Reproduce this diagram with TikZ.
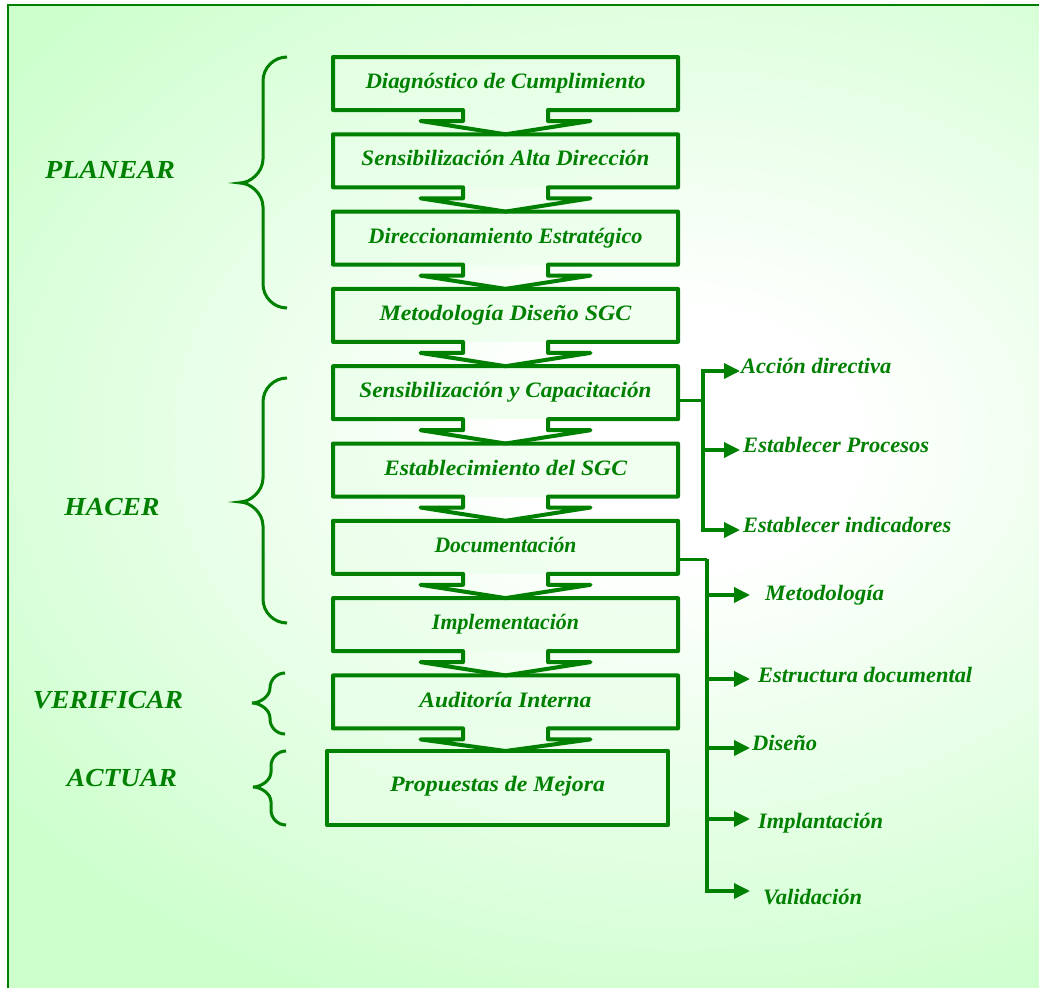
\documentclass[tikz,border=0pt]{standalone}
\usepackage{fontspec}
\setmainfont{Liberation Serif}
\usepackage{graphicx}
\usetikzlibrary{arrows.meta,calc}
\definecolor{bg}{RGB}{204,255,204}
\definecolor{dg}{RGB}{0,128,0}
\pgfdeclareradialshading{glow}{\pgfpointorigin}{color(0bp)=(white); color(5bp)=(white); color(25bp)=(bg); color(50bp)=(bg)}
\newcommand\fw[2]{\resizebox{#1pt}{\height}{#2}}
\newcommand\callout[2]{\draw[outl] (#1.south west) -- (#1.north west) -- (#1.north east) -- (#1.south east) -- ($(#1.south)+(42.5,0)$) -- ++(0,11) -- ++(42.5,0) -- (#1.south |- #2.north) -- ($(#1.south)+(-85,11)$) -- ++(42.5,0) -- ($(#1.south)+(-42.5,0)$) -- cycle;}
% xend, xv, xtip, ytop, ytip, ybot, r
\newcommand\mybrace[7]{\draw[brace] (#1,#4) .. controls ({#2+0.45*(#1-#2)},#4) and (#2,{#4+0.45*#7}) .. (#2,{#4+#7}) -- (#2,{#5-#7}) .. controls (#2,{#5-0.45*#7}) and ({#3+0.45*(#2-#3)},#5) .. (#3,#5) .. controls ({#3+0.45*(#2-#3)},#5) and (#2,{#5+0.45*#7}) .. (#2,{#5+#7}) -- (#2,{#6-#7}) .. controls (#2,{#6-0.45*#7}) and ({#2+0.45*(#1-#2)},#6) .. (#1,#6);}
\begin{document}
\begin{tikzpicture}[x=1pt,y=-1pt,
  box/.style={minimum width=345pt, minimum height=53pt, inner sep=0pt, outer sep=0pt,
    fill=bg!45!white, fill opacity=0.6, text opacity=1, text=dg,
    font=\fontsize{22}{24}\selectfont\bfseries\itshape},
  outl/.style={draw=dg, line width=4pt, line join=round},
  brace/.style={draw=dg, line width=3pt},
  side/.style={text=dg, font=\fontsize{26}{28}\selectfont\bfseries\itshape, inner sep=0pt},
  rl/.style={text=dg, anchor=west, inner sep=0pt, text height=1.45ex, text depth=0.45ex,
    font=\fontsize{22}{24}\selectfont\bfseries\itshape},
  cline/.style={draw=dg, line width=3pt},
  arr/.style={draw=dg, line width=3.5pt, -{Triangle[length=16pt,width=15pt]}}]
\useasboundingbox (0,0) rectangle (1039,988);
\fill[white] (0,0) rectangle (1039,988);
\fill[bg] (8,5) rectangle (1039,988);
\begin{scope}
  \clip (8,5) rectangle (1039,988);
  \shade[shading=glow] (680,440) ellipse (850 and 620);
\end{scope}
\draw[dg, line width=2.5pt] (8,988) -- (8,5) -- (1039,5);

% boxes
\node[box] (b1) at (505.5,83.5) {\raisebox{5pt}{\fw{280}{Diagnóstico de Cumplimiento}}};
\node[box] (b2) at (505.5,160.8) {\raisebox{5pt}{\fw{288}{Sensibilización Alta Dirección}}};
\node[box] (b3) at (505.5,238.1) {\raisebox{5pt}{\fw{274}{Direccionamiento Estratégico}}};
\node[box] (b4) at (505.5,315.4) {\raisebox{5pt}{\fw{252}{Metodología Diseño SGC}}};
\node[box] (b5) at (505.5,392.7) {\raisebox{5pt}{\fw{292}{Sensibilización y Capacitación}}};
\node[box] (b6) at (505.5,470) {\raisebox{5pt}{\fw{243}{Establecimiento del SGC}}};
\node[box] (b7) at (505.5,547.3) {\raisebox{5pt}{\fw{142}{Documentación}}};
\node[box] (b8) at (505.5,624.6) {\raisebox{5pt}{\fw{147}{Implementación}}};
\node[box] (b9) at (505.5,701.9) {\raisebox{5pt}{\fw{172}{Auditoría Interna}}};
\node[box, minimum width=341pt, minimum height=74pt] (b10) at (497.5,788) {\raisebox{8pt}{\fw{215}{Propuestas de Mejora}}};

\callout{b1}{b2}
\callout{b2}{b3}
\callout{b3}{b4}
\callout{b4}{b5}
\callout{b5}{b6}
\callout{b6}{b7}
\callout{b7}{b8}
\callout{b8}{b9}
\callout{b9}{b10}
\draw[outl] (b10.south west) rectangle (b10.north east);

% braces and phase labels
\mybrace{287}{263}{240}{57}{183}{308}{24}
\mybrace{287}{263}{240}{378}{502}{623}{24}
\mybrace{285}{270}{252}{673}{703}{734}{15}
\mybrace{286}{271}{253}{751}{787}{825}{15}
\node[side] (p1) at (110,170) {\fw{130}{PLANEAR}};
\node[side] (p2) at (112,507) {\fw{95}{HACER}};
\node[side] (p3) at (108,700) {\fw{150}{VERIFICAR}};
\node[side] (p4) at (122,778) {\fw{110}{ACTUAR}};

% right connectors 1
\coordinate (j1) at (703,400);
\draw[cline] (b5.east |- j1) -- (j1);
\node[rl] (r1) at (741,371) {\fw{150}{Acción directiva}};
\node[rl] (r2) at (743,450) {\fw{186}{Establecer Procesos}};
\node[rl] (r3) at (743,530) {\fw{208}{Establecer indicadores}};
\draw[arr, shorten >=1pt] (j1) |- (r1.west);
\draw[arr, shorten >=3pt] (j1) |- (r2.west);
\draw[arr, shorten >=3pt] (j1) |- (r3.west);

% right connectors 2
\coordinate (j2) at (707,559);
\draw[cline] (b7.east |- j2) -- (j2);
\node[rl] (s1) at (765,598) {\fw{119}{Metodología}};
\node[rl] (s2) at (758,680) {\fw{214}{Estructura documental}};
\node[rl] (s3) at (752,748) {\fw{65}{Diseño}};
\node[rl] (s4) at (758,826) {\fw{125}{Implantación}};
\node[rl] (s5) at (763,902) {\fw{99}{Validación}};
\draw[arr, shorten >=15pt] (j2) |- ([yshift=3pt]s1.west);
\draw[arr, shorten >=8pt] (j2) |- ([yshift=1pt]s2.west);
\draw[arr, shorten >=2pt] (j2) |- (s3.west);
\draw[arr, shorten >=8pt] (j2) |- ([yshift=7pt]s4.west);
\draw[arr, shorten >=13pt] (j2) |- ([yshift=11pt]s5.west);
\end{tikzpicture}
\end{document}
